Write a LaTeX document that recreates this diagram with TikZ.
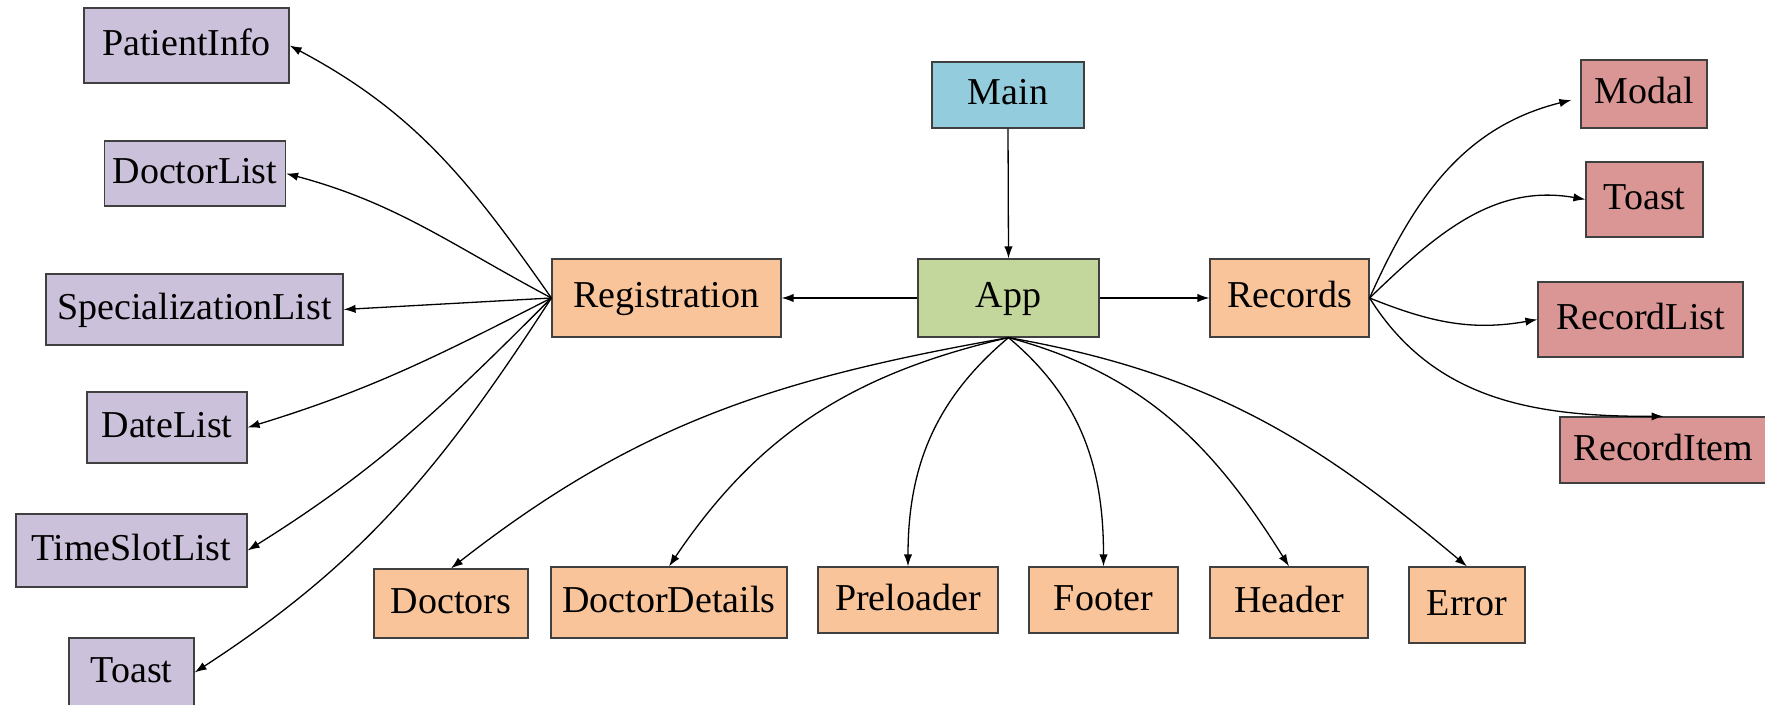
\documentclass[tikz,border=0pt]{standalone}
\usepackage{fontspec}
\setmainfont{Liberation Serif}
\usetikzlibrary{arrows.meta}

\definecolor{lav}{HTML}{CCC1DA}
\definecolor{peach}{HTML}{F9C49A}
\definecolor{sage}{HTML}{C3D69B}
\definecolor{sky}{HTML}{93CDDD}
\definecolor{rose}{HTML}{D99694}

\begin{document}
\begin{tikzpicture}[x=0.5pt, y=0.5pt,
  comp/.style={draw=black!75, line width=0.6pt, inner sep=0pt,
    font=\fontsize{19}{22}\selectfont, text height=14pt, text depth=4pt},
  sub/.style={comp, fill=lav},
  mid/.style={comp, fill=peach},
  rec/.style={comp, fill=rose},
  link/.style={-{Latex[length=6pt,width=4.2pt]}, line width=0.65pt, black}]

\useasboundingbox (0,0) rectangle (1765,-705);

% entry and root
\node[comp, fill=sky, minimum width=76pt, minimum height=33pt] (main) at (1008,-95) {Main};
\node[comp, fill=sage, minimum width=90.5pt, minimum height=39pt] (app) at (1008.5,-298) {App};
\node[mid, minimum width=114.5pt, minimum height=39pt] (reg) at (666.5,-298) {Registration};
\node[mid, minimum width=79.5pt, minimum height=39pt] (records) at (1289.5,-298) {Records};

% registration children
\node[sub, minimum width=102.5pt, minimum height=37.5pt] (patient) at (186.5,-45.5) {PatientInfo};
\node[sub, minimum width=90.5pt, minimum height=32.5pt] (doclist) at (195,-173.5) {DoctorList};
\node[sub, minimum width=148.5pt, minimum height=35.5pt] (spec) at (194.5,-309.5) {SpecializationList};
\node[sub, minimum width=80pt, minimum height=35.5pt] (date) at (167,-427.5) {DateList};
\node[sub, minimum width=115.5pt, minimum height=36.5pt] (slot) at (131.5,-550.5) {TimeSlotList};
\node[sub, minimum width=62.5pt, minimum height=34.5pt] (toastL) at (131.5,-672.5) {Toast};

% records children
\node[rec, minimum width=63pt, minimum height=34pt] (modal) at (1644,-94) {Modal};
\node[rec, minimum width=58.5pt, minimum height=37.5pt] (toastR) at (1644.5,-199.5) {Toast};
\node[rec, minimum width=102.5pt, minimum height=37.5pt] (reclist) at (1640.5,-319.5) {RecordList};
\node[rec, minimum width=103.5pt, minimum height=33pt] (recitem) at (1663.5,-450) {RecordItem};

% app children
\node[mid, minimum width=77pt, minimum height=34.5pt] (doctors) at (451,-603.5) {Doctors};
\node[mid, minimum width=118pt, minimum height=35.5pt] (docdet) at (669,-602.5) {DoctorDetails};
\node[mid, minimum width=90pt, minimum height=33pt] (pre) at (908,-600) {Preloader};
\node[mid, minimum width=74.5pt, minimum height=33pt] (footer) at (1103.5,-600) {Footer};
\node[mid, minimum width=79pt, minimum height=35.5pt] (header) at (1289,-602.5) {Header};
\node[mid, minimum width=58pt, minimum height=38pt] (error) at (1467,-605) {Error};

% main spine
\draw[link] (main.south) -- (app.north);
\draw[link] (app.west) -- (reg.east);
\draw[link] (app.east) -- (records.west);

% registration fan
\draw[link] (reg.west) to[out=125, in=-28] (patient.east);
\draw[link] (reg.west) to[out=152, in=-15] (doclist.east);
\draw[link] (reg.west) -- (spec.east);
\draw[link] (reg.west) to[out=207, in=17] (date.east);
\draw[link] (reg.west) to[out=225, in=32] (slot.east);
\draw[link] (reg.west) to[out=237, in=33] (toastL.east);

% records fan
\draw[link] (records.east) to[out=66, in=194] ([xshift=-4.5pt,yshift=-3pt]modal.west);
\draw[link] (records.east) to[out=44, in=170] (toastR.west);
\draw[link] (records.east) to[out=-22, in=190] (reclist.west);
\draw[link] (records.east) to[out=-58, in=180] (recitem.north);

% app fan
\draw[link] (app.south) to[out=190, in=38] (doctors.north);
\draw[link] (app.south) to[out=193, in=56] (docdet.north);
\draw[link] (app.south) to[out=220, in=90] (pre.north);
\draw[link] (app.south) to[out=-40, in=90] (footer.north);
\draw[link] (app.south) to[out=-15, in=122] (header.north);
\draw[link] (app.south) to[out=-10, in=140] (error.north);
\end{tikzpicture}
\end{document}
